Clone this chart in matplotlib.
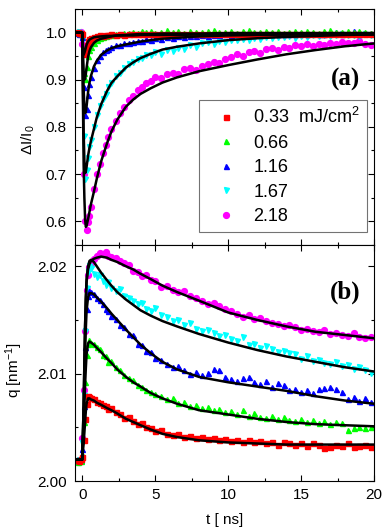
import numpy as np
import matplotlib
matplotlib.use("Agg")
import matplotlib.pyplot as plt
from matplotlib.ticker import MultipleLocator

plt.rcParams['font.family'] = ['Liberation Sans', 'DejaVu Sans']
plt.rcParams['mathtext.fontset'] = 'custom'
plt.rcParams['mathtext.rm'] = 'Liberation Sans'
plt.rcParams['mathtext.it'] = 'Liberation Sans'
plt.rcParams['mathtext.default'] = 'regular'

# --- legend / series ---
labels = ['0.33  mJ/cm$^2$', '0.66', '1.16', '1.67', '2.18']
colors = ['#ff0000', '#00ff00', '#0000ff', '#00ffff', '#ff00ff']
markers = ['s', '^', '^', 'v', 'o']

# --- measured points (time in ns) ---
t_data = [-0.3, -0.2, -0.1, 0.0, 0.1, 0.2, 0.3, 0.4, 0.5, 0.6,
          0.8, 1.0, 1.2, 1.4, 1.6, 1.8, 2.0,
          2.3, 2.6, 2.9, 3.2, 3.5, 3.8, 4.1, 4.4, 4.7, 5.0,
          5.4, 5.8, 6.2, 6.6, 7.0, 7.4, 7.8, 8.2, 8.6, 9.0, 9.4, 9.8,
          10.2, 10.6, 11.0, 11.4, 11.8, 12.2, 12.6, 13.0, 13.4, 13.8,
          14.2, 14.6, 15.0, 15.4, 15.8, 16.2, 16.6, 17.0, 17.4, 17.8,
          18.2, 18.6, 19.0, 19.4, 19.8]

# panel (a): dI/I0
int_033 = [1.001, 0.999, 1.000, 0.997, 0.955, 0.960, 0.974, 0.983, 0.986, 0.989,
           0.991, 0.993, 0.994, 0.993, 0.995, 0.994, 0.996,
           0.995, 0.996, 0.995, 0.997, 0.996, 0.997, 0.996, 0.997, 0.996, 0.997,
           0.996, 0.998, 0.997, 0.996, 0.997, 0.998, 0.997, 0.996, 0.997, 0.998, 0.997, 0.996,
           0.997, 0.998, 0.997, 0.996, 0.997, 0.998, 0.997, 0.996, 0.997, 0.998,
           0.997, 0.996, 0.997, 0.998, 0.997, 0.996, 0.997, 0.998, 0.997, 0.996,
           0.997, 0.998, 0.997, 0.996, 0.997]
int_066 = [1.002, 1.000, 0.999, 0.996, 0.915, 0.902, 0.928, 0.950, 0.963, 0.970,
           0.979, 0.985, 0.988, 0.991, 0.992, 0.994, 0.995,
           0.997, 0.998, 1.000, 0.999, 1.002, 1.000, 1.003, 1.001, 1.004, 1.000,
           1.002, 1.005, 1.001, 1.003, 1.000, 1.004, 1.002, 1.001, 1.003, 1.005, 1.001, 1.002,
           1.004, 1.000, 1.003, 1.005, 1.001, 1.002, 1.004, 1.001, 1.003, 1.000,
           1.002, 1.004, 1.001, 1.003, 1.002, 1.000, 1.003, 1.005, 1.001, 1.002,
           1.004, 1.001, 1.003, 1.002, 1.000]
int_116 = [1.000, 0.998, 1.001, 0.990, 0.885, 0.826, 0.838, 0.868, 0.892, 0.905,
           0.925, 0.942, 0.950, 0.958, 0.963, 0.966, 0.970,
           0.974, 0.973, 0.978, 0.977, 0.981, 0.983, 0.982, 0.986, 0.985, 0.988,
           0.987, 0.990, 0.989, 0.992, 0.991, 0.993, 0.992, 0.994, 0.993, 0.995, 0.994, 0.996,
           0.995, 0.997, 0.995, 0.996, 0.998, 0.996, 0.997, 0.999, 0.997, 0.996,
           0.998, 0.997, 0.999, 0.997, 1.000, 0.998, 0.997, 0.999, 1.001, 0.998,
           0.999, 1.004, 0.998, 0.999, 1.000]
int_167 = [0.999, 1.001, 0.998, 0.985, 0.780, 0.690, 0.708, 0.735, 0.758, 0.772,
           0.800, 0.826, 0.845, 0.860, 0.870, 0.885, 0.894,
           0.908, 0.915, 0.925, 0.933, 0.938, 0.945, 0.946, 0.953, 0.952, 0.958,
           0.955, 0.963, 0.960, 0.968, 0.966, 0.973, 0.970, 0.978, 0.980, 0.976, 0.983, 0.981,
           0.985, 0.984, 0.987, 0.985, 0.989, 0.987, 0.990, 0.988, 0.991, 0.990,
           0.992, 0.989, 0.993, 0.991, 0.994, 0.992, 0.995, 0.993, 0.994, 0.996,
           0.994, 0.995, 0.993, 0.996, 0.995]
int_218 = [1.000, 0.998, 1.001, 0.975, 0.700, 0.600, 0.582, 0.598, 0.612, 0.630,
           0.668, 0.700, 0.722, 0.745, 0.762, 0.779, 0.795,
           0.812, 0.830, 0.842, 0.858, 0.866, 0.878, 0.884, 0.893, 0.897, 0.905,
           0.903, 0.912, 0.915, 0.913, 0.922, 0.925, 0.921, 0.930, 0.934, 0.938, 0.936, 0.945,
           0.948, 0.955, 0.950, 0.958, 0.962, 0.957, 0.965, 0.968, 0.963, 0.970,
           0.968, 0.973, 0.971, 0.975, 0.972, 0.976, 0.974, 0.978, 0.975, 0.980,
           0.977, 0.979, 0.983, 0.976, 0.974]

# panel (b): peak position q (nm^-1)
q_033 = [2.0020, 2.0019, 2.0021, 2.0022, 2.0038, 2.0058, 2.0072, 2.0079, 2.0078, 2.0077,
         2.0076, 2.0074, 2.0073, 2.0071, 2.0070, 2.0067, 2.0068,
         2.0064, 2.0062, 2.0059, 2.0060, 2.0056, 2.0053, 2.0054, 2.0050, 2.0049, 2.0047,
         2.0048, 2.0044, 2.0043, 2.0044, 2.0041, 2.0042, 2.0040, 2.0041, 2.0039, 2.0040, 2.0038, 2.0039,
         2.0037, 2.0038, 2.0036, 2.0038, 2.0036, 2.0037, 2.0035, 2.0036, 2.0034, 2.0036,
         2.0035, 2.0034, 2.0035, 2.0033, 2.0035, 2.0034, 2.0031, 2.0032, 2.0034, 2.0033,
         2.0035, 2.0032, 2.0033, 2.0034, 2.0032]
q_066 = [2.0018, 2.0020, 2.0019, 2.0025, 2.0055, 2.0092, 2.0117, 2.0128, 2.0131, 2.0129,
         2.0128, 2.0125, 2.0123, 2.0117, 2.0116, 2.0111, 2.0112,
         2.0106, 2.0103, 2.0099, 2.0096, 2.0094, 2.0089, 2.0088, 2.0085, 2.0083, 2.0081,
         2.0079, 2.0076, 2.0077, 2.0073, 2.0074, 2.0070, 2.0071, 2.0068, 2.0069, 2.0066, 2.0067, 2.0064,
         2.0065, 2.0062, 2.0066, 2.0061, 2.0063, 2.0060, 2.0059, 2.0061, 2.0058, 2.0060,
         2.0057, 2.0056, 2.0058, 2.0055, 2.0057, 2.0054, 2.0056, 2.0053, 2.0055, 2.0054,
         2.0048, 2.0049, 2.0050, 2.0049, 2.0050]
q_116 = [2.0019, 2.0021, 2.0020, 2.0030, 2.0070, 2.0125, 2.0160, 2.0172, 2.0177, 2.0176,
         2.0174, 2.0170, 2.0169, 2.0165, 2.0160, 2.0158, 2.0154,
         2.0151, 2.0145, 2.0143, 2.0137, 2.0136, 2.0128, 2.0127, 2.0121, 2.0120, 2.0115,
         2.0113, 2.0109, 2.0106, 2.0107, 2.0103, 2.0100, 2.0102, 2.0099, 2.0101, 2.0104, 2.0103, 2.0097,
         2.0095, 2.0093, 2.0096, 2.0097, 2.0092, 2.0090, 2.0093, 2.0088, 2.0091, 2.0089,
         2.0085, 2.0086, 2.0083, 2.0085, 2.0082, 2.0086, 2.0087, 2.0088, 2.0086, 2.0083,
         2.0076, 2.0078, 2.0075, 2.0077, 2.0074]
q_167 = [2.0018, 2.0020, 2.0019, 2.0035, 2.0080, 2.0140, 2.0180, 2.0195, 2.0200, 2.0198,
         2.0193, 2.0190, 2.0192, 2.0186, 2.0183, 2.0185, 2.0180,
         2.0177, 2.0179, 2.0172, 2.0170, 2.0168, 2.0165, 2.0166, 2.0160, 2.0158, 2.0161,
         2.0155, 2.0153, 2.0149, 2.0150, 2.0145, 2.0147, 2.0142, 2.0140, 2.0141, 2.0138, 2.0135, 2.0136,
         2.0132, 2.0130, 2.0134, 2.0127, 2.0128, 2.0124, 2.0126, 2.0123, 2.0120, 2.0121,
         2.0119, 2.0118, 2.0114, 2.0116, 2.0112, 2.0113, 2.0110, 2.0109, 2.0111, 2.0107,
         2.0108, 2.0104, 2.0106, 2.0103, 2.0101]
q_218 = [2.0019, 2.0018, 2.0020, 2.0040, 2.0085, 2.0140, 2.0178, 2.0192, 2.0199, 2.0203,
         2.0207, 2.0210, 2.0212, 2.0211, 2.0213, 2.0210, 2.0209,
         2.0208, 2.0205, 2.0203, 2.0201, 2.0196, 2.0195, 2.0191, 2.0192, 2.0187, 2.0186,
         2.0181, 2.0182, 2.0178, 2.0176, 2.0177, 2.0172, 2.0170, 2.0168, 2.0165, 2.0166, 2.0163, 2.0160,
         2.0158, 2.0156, 2.0153, 2.0155, 2.0151, 2.0152, 2.0149, 2.0147, 2.0146, 2.0144,
         2.0145, 2.0143, 2.0141, 2.0142, 2.0140, 2.0139, 2.0141, 2.0137, 2.0138, 2.0136,
         2.0135, 2.0138, 2.0134, 2.0133, 2.0134]

# --- fitted curves ---
t_fit = [-0.5, 0.0, 0.1, 0.15, 0.2, 0.25, 0.3, 0.4, 0.5, 0.6, 0.8, 1.0, 1.3, 1.7,
         2.0, 2.4, 3.0, 3.5, 4.0, 4.7, 5.5, 6.5, 8.0, 10, 12, 14, 16, 18, 20]

fit_int_033 = [1.0, 1.0, 0.953, 0.957, 0.962, 0.968, 0.974, 0.981, 0.985, 0.987, 0.990, 0.991, 0.992, 0.993,
               0.993, 0.994, 0.994, 0.994, 0.995, 0.995, 0.995, 0.995, 0.996, 0.996, 0.996, 0.996, 0.996, 0.996, 0.996]
fit_int_066 = [1.0, 1.0, 0.915, 0.900, 0.902, 0.912, 0.925, 0.948, 0.961, 0.969, 0.978, 0.983, 0.987, 0.990,
               0.992, 0.994, 0.995, 0.996, 0.997, 0.997, 0.998, 0.998, 0.998, 0.999, 0.999, 0.999, 0.999, 0.999, 0.999]
fit_int_116 = [1.0, 1.0, 0.880, 0.845, 0.829, 0.832, 0.843, 0.873, 0.894, 0.908, 0.928, 0.940, 0.953, 0.962,
               0.967, 0.971, 0.975, 0.978, 0.981, 0.984, 0.987, 0.989, 0.992, 0.994, 0.995, 0.996, 0.997, 0.997, 0.998]
fit_int_167 = [1.0, 1.0, 0.790, 0.730, 0.702, 0.705, 0.715, 0.738, 0.756, 0.770, 0.795, 0.820, 0.848, 0.876,
               0.893, 0.907, 0.926, 0.937, 0.946, 0.955, 0.964, 0.970, 0.977, 0.984, 0.988, 0.991, 0.993, 0.995, 0.996]
fit_int_218 = [1.0, 1.0, 0.720, 0.650, 0.605, 0.588, 0.590, 0.604, 0.620, 0.636, 0.662, 0.690, 0.727, 0.765,
               0.790, 0.815, 0.843, 0.858, 0.870, 0.882, 0.894, 0.905, 0.918, 0.931, 0.943, 0.954, 0.963, 0.971, 0.977]

fit_q_033 = [2.0020, 2.0020, 2.0035, 2.0045, 2.0055, 2.0065, 2.0072, 2.0077, 2.0077, 2.0076, 2.0075, 2.0073, 2.0071, 2.0068,
             2.0066, 2.0063, 2.0058, 2.0055, 2.0052, 2.0048, 2.0044, 2.0041, 2.0038, 2.0036, 2.0035, 2.0034, 2.0034, 2.0034, 2.0034]
fit_q_066 = [2.0020, 2.0020, 2.0050, 2.0070, 2.0090, 2.0105, 2.0118, 2.0128, 2.0130, 2.0129, 2.0127, 2.0124, 2.0120, 2.0114,
             2.0110, 2.0104, 2.0097, 2.0092, 2.0088, 2.0082, 2.0077, 2.0072, 2.0066, 2.0062, 2.0058, 2.0055, 2.0053, 2.0052, 2.0051]
fit_q_116 = [2.0020, 2.0020, 2.0060, 2.0090, 2.0120, 2.0142, 2.0158, 2.0171, 2.0175, 2.0175, 2.0174, 2.0171, 2.0167, 2.0161,
             2.0156, 2.0150, 2.0141, 2.0134, 2.0127, 2.0119, 2.0111, 2.0104, 2.0097, 2.0092, 2.0088, 2.0084, 2.0079, 2.0075, 2.0072]
fit_q_167 = [2.0020, 2.0020, 2.0070, 2.0110, 2.0145, 2.0170, 2.0188, 2.0200, 2.0205, 2.0206, 2.0204, 2.0200, 2.0194, 2.0187,
             2.0182, 2.0176, 2.0169, 2.0164, 2.0159, 2.0154, 2.0149, 2.0144, 2.0137, 2.0129, 2.0122, 2.0116, 2.0111, 2.0106, 2.0102]
fit_q_218 = [2.0020, 2.0020, 2.0070, 2.0110, 2.0145, 2.0170, 2.0185, 2.0197, 2.0202, 2.0205, 2.0207, 2.0208, 2.0209, 2.0208,
             2.0206, 2.0204, 2.0200, 2.0197, 2.0193, 2.0188, 2.0182, 2.0176, 2.0168, 2.0157, 2.0150, 2.0144, 2.0139, 2.0136, 2.0133]

int_data = [int_033, int_066, int_116, int_167, int_218]
q_data = [q_033, q_066, q_116, q_167, q_218]
int_fits = [fit_int_033, fit_int_066, fit_int_116, fit_int_167, fit_int_218]
q_fits = [fit_q_033, fit_q_066, fit_q_116, fit_q_167, fit_q_218]


def style_axis(ax):
    ax.tick_params(which='both', direction='in', top=True, right=True, labelsize=11, width=0.8)
    ax.tick_params(which='major', length=4)
    ax.tick_params(which='minor', length=2)
    ax.tick_params(axis='y', pad=6)
    ax.tick_params(axis='x', pad=5)
    for s in ax.spines.values():
        s.set_linewidth(0.8)
    ax.xaxis.set_major_locator(MultipleLocator(5))
    ax.xaxis.set_minor_locator(MultipleLocator(2.5))
    ax.set_xlim(-0.5, 20)


fig = plt.figure(figsize=(3.88, 5.31), dpi=100)
ax1 = fig.add_axes([0.193, 0.539, 0.771, 0.444])
ax2 = fig.add_axes([0.193, 0.094, 0.771, 0.445])

# highest fluence first so the low-fluence points sit on top
handles = [None] * 5
for i in reversed(range(5)):
    ms = 4.2 if markers[i] == 'o' else 3.6
    handles[i], = ax1.plot(t_data, int_data[i], ls='none', marker=markers[i], ms=ms,
                           color=colors[i], mec=colors[i], label=labels[i])
    ax2.plot(t_data, q_data[i], ls='none', marker=markers[i], ms=ms, color=colors[i],
             mec=colors[i])
for i in range(5):
    ax1.plot(t_fit, int_fits[i], color='black', lw=1.8)
    ax2.plot(t_fit, q_fits[i], color='black', lw=1.8)

style_axis(ax1)
ax1.set_ylim(0.55, 1.05)
ax1.yaxis.set_minor_locator(MultipleLocator(0.05))
ax1.set_yticks([0.6, 0.7, 0.8, 0.9, 1.0])
ax1.tick_params(axis='x', labelbottom=False)
ax1.set_ylabel('ΔI/I$_0$', fontsize=11)
ax1.yaxis.set_label_coords(-0.127, 0.445)
ax1.text(0.903, 0.70, '(a)', transform=ax1.transAxes, ha='center', va='center',
         fontsize=18, fontweight='bold', family='Liberation Serif')

leg = ax1.legend(handles=handles, labels=labels, loc='upper right',
                 bbox_to_anchor=(0.977, 0.614), fontsize=13,
                 frameon=True, fancybox=False, edgecolor='0.45', framealpha=1,
                 handlelength=2.2, handletextpad=0.4, labelspacing=0.41,
                 borderpad=0.4, borderaxespad=0, markerscale=1.0)
leg.get_frame().set_linewidth(0.8)

style_axis(ax2)
ax2.set_ylim(2.0, 2.022)
ax2.yaxis.set_major_locator(MultipleLocator(0.01))
ax2.yaxis.set_minor_locator(MultipleLocator(0.005))
ax2.yaxis.set_major_formatter(matplotlib.ticker.FormatStrFormatter('%.2f'))
ax2.set_ylabel('q [nm$^{-1}$]', fontsize=11)
ax2.yaxis.set_label_coords(-0.167, 0.47)
ax2.set_xlabel('t [ ns]', fontsize=11, labelpad=8)
ax2.text(0.903, 0.797, '(b)', transform=ax2.transAxes, ha='center', va='center',
         fontsize=18, fontweight='bold', family='Liberation Serif')

fig.savefig('out.png', dpi=100)
